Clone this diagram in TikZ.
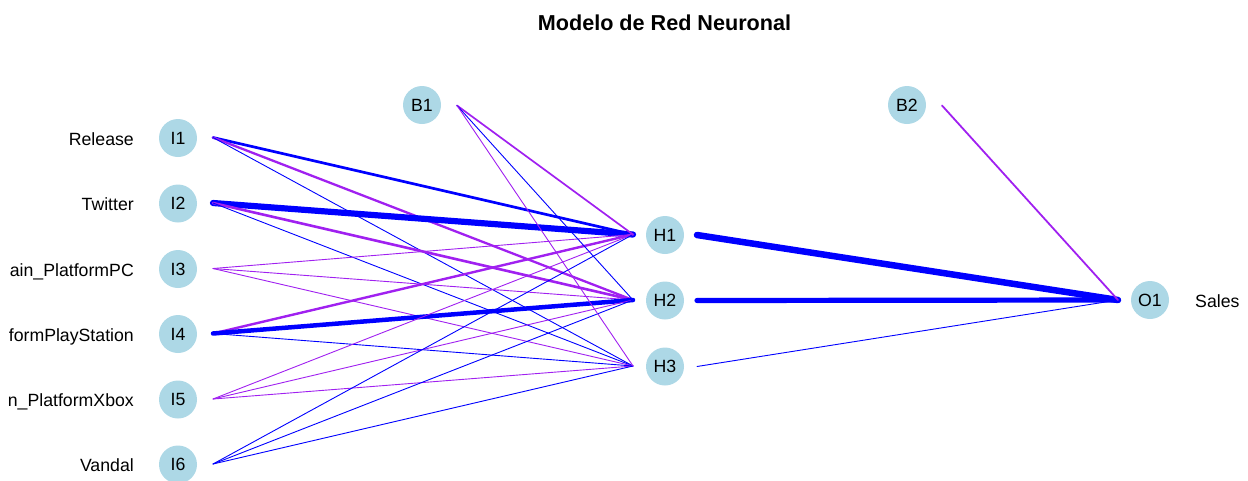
\documentclass[tikz,border=0pt]{standalone}
\usepackage{fontspec}
\setmainfont{Liberation Sans}
\definecolor{nnblue}{RGB}{0,0,255}
\definecolor{nnpurple}{RGB}{160,32,240}
\definecolor{nodefill}{RGB}{173,216,230}
\begin{document}
\begin{tikzpicture}[x=1pt,y=-1pt,
  neuron/.style={circle,fill=nodefill,minimum size=38pt,inner sep=0pt,font=\fontsize{17.7}{21}\selectfont},
  lab/.style={font=\fontsize{17.7}{21}\selectfont,inner sep=0pt},
  titlestyle/.style={font=\bfseries\fontsize{21.6}{25}\selectfont,inner sep=0pt},
  posw/.style={draw=nnblue,line cap=round},
  negw/.style={draw=nnpurple,line cap=round}]
\path[use as bounding box] (0,0) rectangle (1248,480);
\clip (0,0) rectangle (1248,480);
% title
\node[titlestyle,anchor=base] (title) at (664.5,30) {Modelo de Red Neuronal};
% connector end points
\foreach \n/\y in {1/138,2/203.5,3/269,4/334,5/399.5,6/464.5}{
  \coordinate (I\n o) at (213,\y-0.5);
}
\foreach \n/\y in {1/235,2/300.5,3/366.5}{
  \coordinate (H\n i) at (633,\y-0.5);
  \coordinate (H\n o) at (697,\y);
}
\coordinate (B1o) at (457,105.5);
\coordinate (B2o) at (942,105.5);
\coordinate (O1i) at (1118,300);
% input -> hidden
\foreach \a/\b/\s/\w in {
  I1/H1/posw/2.7, I1/H2/negw/2.3, I1/H3/posw/0.9,
  I2/H1/posw/6.2, I2/H2/negw/2.6, I2/H3/posw/0.9,
  I3/H1/negw/0.9, I3/H2/negw/0.9, I3/H3/negw/0.9,
  I4/H1/negw/2.4, I4/H2/posw/4.5, I4/H3/posw/0.9,
  I5/H1/negw/0.9, I5/H2/negw/0.9, I5/H3/negw/0.9,
  I6/H1/posw/0.9, I6/H2/posw/0.9, I6/H3/posw/0.9,
  B1/H1/negw/1.7, B1/H2/posw/0.9, B1/H3/negw/0.9}{
  \draw[\s,line width=\w pt] (\a o) -- (\b i);
}
% hidden -> output
\foreach \a/\s/\w in {H1/posw/6.5, H2/posw/5.2, H3/posw/0.9, B2/negw/1.8}{
  \draw[\s,line width=\w pt] (\a o) -- (O1i);
}
% neurons
\node[neuron] (I1) at (178,138) {I1};
\node[neuron] (I2) at (178,203.5) {I2};
\node[neuron] (I3) at (178,269) {I3};
\node[neuron] (I4) at (178,334) {I4};
\node[neuron] (I5) at (178,399.5) {I5};
\node[neuron] (I6) at (178,464.5) {I6};
\node[neuron] (B1) at (422,105) {B1};
\node[neuron] (H1) at (665,235) {H1};
\node[neuron] (H2) at (665,300.5) {H2};
\node[neuron] (H3) at (665,366.5) {H3};
\node[neuron] (B2) at (907,105) {B2};
\node[neuron] (O1) at (1150,300) {O1};
% labels
\node[lab,anchor=base east] (L1) at (134,145) {Release};
\node[lab,anchor=base east] (L2) at (134,210.5) {Twitter};
\node[lab,anchor=base east] (L3) at (134,276) {ain\_PlatformPC};
\node[lab,anchor=base east] (L4) at (134,341) {formPlayStation};
\node[lab,anchor=base east] (L5) at (134,406.5) {n\_PlatformXbox};
\node[lab,anchor=base east] (L6) at (134,471.5) {Vandal};
\node[lab,anchor=base west] (LO) at (1195,307) {Sales};
\end{tikzpicture}
\end{document}
